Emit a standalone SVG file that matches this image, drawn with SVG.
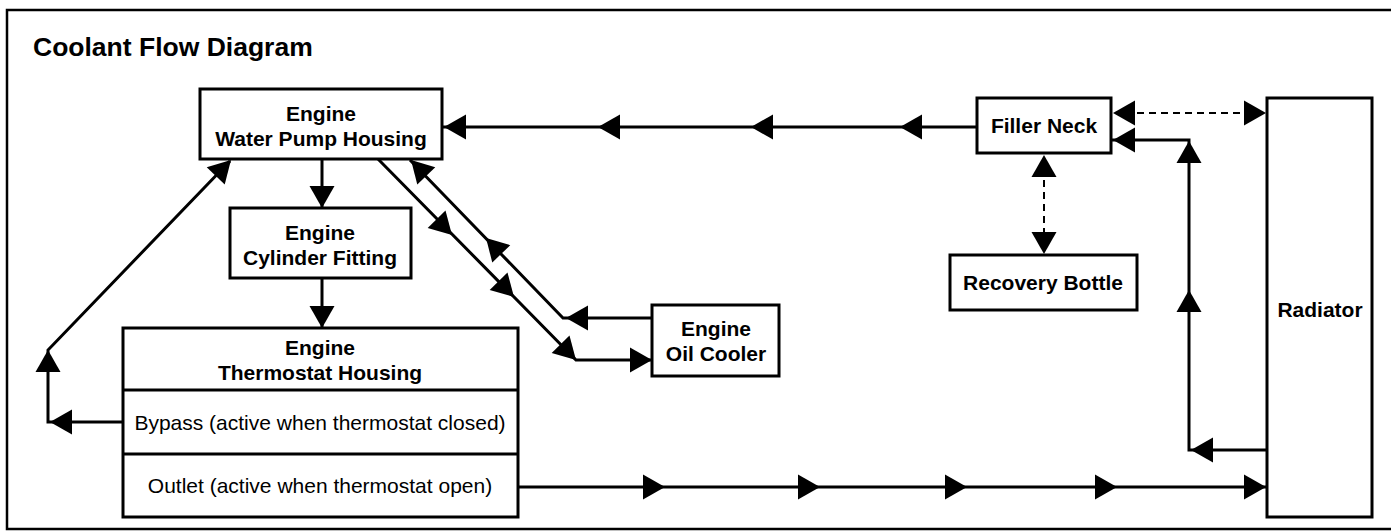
<svg xmlns="http://www.w3.org/2000/svg" xmlns:xlink="http://www.w3.org/1999/xlink" width="1391" height="531" viewBox="0 0 1391 531">
  <style>
    .box { fill: #ffffff; stroke: #000000; stroke-width: 3; }
    .ln { fill: none; stroke: #000000; stroke-width: 3; }
    .dash { fill: none; stroke: #000000; stroke-width: 2; stroke-dasharray: 7 5; }
    .b { font-family: "Liberation Sans", Arial, sans-serif; font-weight: bold; font-size: 21px; fill: #000; text-anchor: middle; }
    .r { font-family: "Liberation Sans", Arial, sans-serif; font-size: 21px; fill: #000; text-anchor: middle; }
    .title { font-family: "Liberation Sans", Arial, sans-serif; font-weight: bold; font-size: 26.5px; fill: #000; }
  </style>
  <defs>
    <path id="ah" d="M0,0 L-22,-12.5 L-22,12.5 Z" fill="#000"/>
  </defs>
  <rect x="0" y="0" width="1391" height="531" fill="#ffffff"/>
  <rect x="7" y="10" width="1392" height="519" fill="none" stroke="#000" stroke-width="2.5"/>
  <text class="title" x="33" y="56">Coolant Flow Diagram</text>

  <g id="connectors">
    <!-- top line Filler Neck -> WPH -->
    <line class="ln" x1="977" y1="127" x2="442" y2="127"/>
    <use xlink:href="#ah" transform="translate(444,127) rotate(180)"/>
    <use xlink:href="#ah" transform="translate(598,127) rotate(180)"/>
    <use xlink:href="#ah" transform="translate(751,127) rotate(180)"/>
    <use xlink:href="#ah" transform="translate(900,127) rotate(180)"/>
    <!-- WPH -> Cylinder -->
    <line class="ln" x1="322" y1="159" x2="322" y2="207"/>
    <use xlink:href="#ah" transform="translate(322,208) rotate(90)"/>
    <!-- Cylinder -> Thermostat -->
    <line class="ln" x1="322" y1="278" x2="322" y2="327"/>
    <use xlink:href="#ah" transform="translate(322,328) rotate(90)"/>
    <!-- Bypass -> WPH -->
    <polyline class="ln" points="123,422 48,422 48,350 230,161"/>
    <use xlink:href="#ah" transform="translate(50,422) rotate(180)"/>
    <use xlink:href="#ah" transform="translate(48,350) rotate(-90)"/>
    <use xlink:href="#ah" transform="translate(231,160) rotate(-46)"/>
    <!-- WPH -> Oil cooler -->
    <polyline class="ln" points="378,159 576,360 651,360"/>
    <use xlink:href="#ah" transform="translate(452,235) rotate(45.5)"/>
    <use xlink:href="#ah" transform="translate(514,297) rotate(45.5)"/>
    <use xlink:href="#ah" transform="translate(576,360) rotate(45.5)"/>
    <use xlink:href="#ah" transform="translate(652,360)"/>
    <!-- Oil cooler -> WPH -->
    <polyline class="ln" points="652,318 563,318 410,160"/>
    <use xlink:href="#ah" transform="translate(566,318) rotate(180)"/>
    <use xlink:href="#ah" transform="translate(486,238) rotate(-134)"/>
    <use xlink:href="#ah" transform="translate(411,160) rotate(-134)"/>
    <!-- Filler neck <-> Radiator dashed -->
    <line class="dash" x1="1125" y1="113" x2="1250" y2="113"/>
    <use xlink:href="#ah" transform="translate(1113,113) rotate(180)"/>
    <use xlink:href="#ah" transform="translate(1266,113)"/>
    <!-- Filler neck <-> Recovery bottle dashed -->
    <line class="dash" x1="1044" y1="168" x2="1044" y2="242"/>
    <use xlink:href="#ah" transform="translate(1044,155) rotate(-90)"/>
    <use xlink:href="#ah" transform="translate(1044,254) rotate(90)"/>
    <!-- Radiator -> Filler neck -->
    <polyline class="ln" points="1267,450 1189,450 1189,140 1112,140"/>
    <use xlink:href="#ah" transform="translate(1191,450) rotate(180)"/>
    <use xlink:href="#ah" transform="translate(1189,290) rotate(-90)"/>
    <use xlink:href="#ah" transform="translate(1189,141) rotate(-90)"/>
    <use xlink:href="#ah" transform="translate(1113,140) rotate(180)"/>
    <!-- Outlet -> Radiator -->
    <line class="ln" x1="518" y1="487" x2="1266" y2="487"/>
    <use xlink:href="#ah" transform="translate(665,487)"/>
    <use xlink:href="#ah" transform="translate(820,487)"/>
    <use xlink:href="#ah" transform="translate(967,487)"/>
    <use xlink:href="#ah" transform="translate(1117,487)"/>
    <use xlink:href="#ah" transform="translate(1266,487)"/>
  </g>

  <g id="water-pump-housing">
    <rect class="box" x="200" y="89" width="242" height="70"/>
    <text class="b" x="321" y="121">Engine</text>
    <text class="b" x="321" y="146">Water Pump Housing</text>
  </g>
  <g id="cylinder-fitting">
    <rect class="box" x="230" y="208" width="181" height="70"/>
    <text class="b" x="320" y="240">Engine</text>
    <text class="b" x="320" y="265">Cylinder Fitting</text>
  </g>
  <g id="thermostat-housing">
    <rect class="box" x="123" y="328" width="395" height="189"/>
    <line class="ln" x1="123" y1="390" x2="518" y2="390"/>
    <line class="ln" x1="123" y1="454" x2="518" y2="454"/>
    <text class="b" x="320" y="355">Engine</text>
    <text class="b" x="320" y="380">Thermostat Housing</text>
    <text class="r" x="320" y="430">Bypass (active when thermostat closed)</text>
    <text class="r" x="320" y="493">Outlet (active when thermostat open)</text>
  </g>
  <g id="oil-cooler">
    <rect class="box" x="652" y="305" width="127" height="71"/>
    <text class="b" x="716" y="336">Engine</text>
    <text class="b" x="716" y="361">Oil Cooler</text>
  </g>
  <g id="filler-neck">
    <rect class="box" x="977" y="98" width="134" height="55"/>
    <text class="b" x="1044" y="133">Filler Neck</text>
  </g>
  <g id="recovery-bottle">
    <rect class="box" x="950" y="255" width="187" height="55"/>
    <text class="b" x="1043" y="290">Recovery Bottle</text>
  </g>
  <g id="radiator">
    <rect class="box" x="1267" y="98" width="105" height="419"/>
    <text class="b" x="1320" y="317">Radiator</text>
  </g>
</svg>
